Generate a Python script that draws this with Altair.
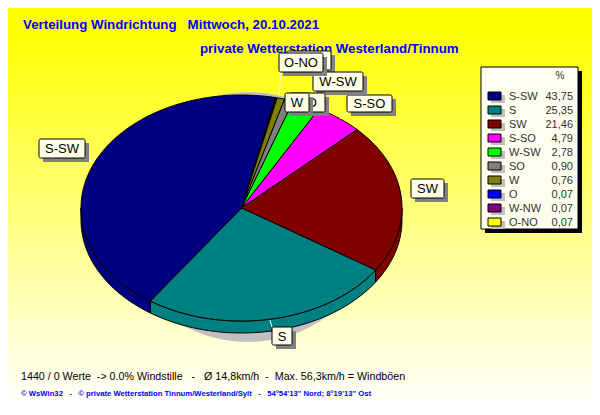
import math
import altair as alt
import pandas as pd

# values, legend order
names = ["S-SW", "S", "SW", "S-SO", "W-SW", "SO", "W", "O", "W-NW", "O-NO"]
percent = [43.75, 25.35, 21.46, 4.79, 2.78, 0.90, 0.76, 0.07, 0.07, 0.07]
percent_text = ["43,75", "25,35", "21,46", "4,79", "2,78", "0,90", "0,76", "0,07", "0,07", "0,07"]
colors = ["#000080", "#008080", "#800000", "#FF00FF", "#00FF00", "#808080", "#808000", "#0000FF", "#800080", "#FFFF00"]
pie_order = ["W-NW", "O", "O-NO", "W", "SO", "W-SW", "S-SO", "SW", "S", "S-SW"]

title_1 = "Verteilung Windrichtung\u00a0\u00a0\u00a0Mittwoch, 20.10.2021"
title_2 = "private Wetterstation Westerland/Tinnum"
info = "1440 / 0 Werte\u00a0\u00a0-> 0.0% Windstille\u00a0\u00a0\u00a0-\u00a0\u00a0\u00a0Ø 14,8km/h\u00a0\u00a0-\u00a0\u00a0Max. 56,3km/h = Windböen"
footer = "© WsWin32\u00a0\u00a0\u00a0-\u00a0\u00a0\u00a0© private Wetterstation Tinnum/Westerland/Sylt\u00a0\u00a0\u00a0-\u00a0\u00a0\u00a054°54'13'' Nord; 8°19'13'' Ost"

# layout (page pixels in the 600x415 window; the page margin is taken off below)
M = 8
W, H = 584, 399
CX, CY, RX, RY, DEPTH = 241.5 - M, 208 - M, 160.5, 113, 12
START = 0.0336
FONT = "Liberation Sans"

label_boxes = [  # drawn in this order; an empty text is a label hidden behind another one
    ("S-SW", "S-SW", 39, 85, 139, 158), ("S", "S", 272, 292, 327, 345), ("SW", "SW", 411, 444, 179, 198),
    ("S-SO", "S-SO", 347, 392, 95, 112), ("W-NW", "", 287, 331, 51, 70), ("W-SW", "W-SW", 313, 363, 72, 91),
    ("O-NO", "O-NO", 279, 323, 53, 72), ("SO", "SO", 290, 325, 93, 112), ("W", "W", 285, 309, 93, 112),
]
leaders = [(347, 112, 340, 119), (272, 327, 270, 320), (85, 160, 92, 161), (402, 199, 411, 199)]
dashed_leaders = [(281, 72, 279, 97)]


def pt(t, dy=0.0):
    a = 2 * math.pi * t
    return [CX + RX * math.sin(a), CY - RY * math.cos(a) + dy]


def arc(t0, t1, dy=0.0):
    n = max(2, int(abs(t1 - t0) * 300))
    return [pt(t0 + (t1 - t0) * i / n, dy) for i in range(n + 1)]


def feature(name, ring):
    ring = ring + [ring[0]]
    return {"type": "Feature", "properties": {"name": name},
            "geometry": {"type": "Polygon", "coordinates": [ring]}}


share = dict(zip(names, percent))
total = sum(percent)
tops, walls = [], []
t = START
for name in pie_order:
    t1 = t + share[name] / total
    tops.append(feature(name, [[CX, CY]] + arc(t, t1)))
    a, b = max(t, 0.25), min(t1, 0.75)
    if a < b:
        walls.append(feature(name, arc(a, b) + arc(b, a, DEPTH)))
    t = t1

sx, sy, srx, sry = 248 - M, 217 - M, 130, 125
shadow = [{"type": "Feature", "properties": {"name": "shadow"}, "geometry": {"type": "Polygon", "coordinates": [[
    [sx + srx * math.sin(2 * math.pi * i / 120), sy - sry * math.cos(2 * math.pi * i / 120)] for i in range(121)]]}}]

fill_enc = alt.Fill("properties.name:N", scale=alt.Scale(domain=names, range=colors), legend=None)


def shape(features, **kw):
    return alt.Chart(alt.Data(values=features)).mark_geoshape(**kw).project(
        type="identity", scale=1, translate=[0, 0])


def rects(df, **kw):
    return alt.Chart(df).mark_rect(**kw).encode(
        x=alt.X("x:Q", scale=None, axis=None), x2="x2:Q",
        y=alt.Y("y:Q", scale=None, axis=None), y2="y2:Q")


def text(df, **kw):
    kw.setdefault("font", FONT)
    return alt.Chart(df).mark_text(**kw).encode(
        x=alt.X("x:Q", scale=None, axis=None), y=alt.Y("y:Q", scale=None, axis=None), text="t:N")


def one(x, y, t):
    return pd.DataFrame({"x": [x - M], "y": [y - M], "t": [t]})


def box(x0, x1, y0, y1):
    return pd.DataFrame({"x": [x0 - M], "x2": [x1 - M], "y": [y0 - M], "y2": [y1 - M]})


def rule(seg, **kw):
    x0, y0, x1, y1 = seg
    return alt.Chart(pd.DataFrame({"x": [x0 - M], "x2": [x1 - M], "y": [y0 - M], "y2": [y1 - M]})).mark_rule(
        color="white", strokeWidth=1, **kw).encode(
        x=alt.X("x:Q", scale=None, axis=None), x2="x2:Q", y=alt.Y("y:Q", scale=None, axis=None), y2="y2:Q")


layers = []
layers.append(alt.Chart(pd.DataFrame({"a": [0]})).mark_rect(
    color=alt.LinearGradient(gradient="linear", x1=0, x2=0, y1=0, y2=1, stops=[
        alt.GradientStop(offset=0, color="#FFFF00"), alt.GradientStop(offset=0.06, color="#FFFF00"),
        alt.GradientStop(offset=1, color="#FFFFFF")])
).encode(x=alt.value(-1), x2=alt.value(W + 1), y=alt.value(-1), y2=alt.value(H + 1)))

layers.append(text(one(23, 25, title_1), align="left", baseline="middle", fontSize=13.3, fontWeight="bold", color="#0000FF"))
layers.append(text(one(200, 49, title_2), align="left", baseline="middle", fontSize=13.3, fontWeight="bold", color="#0000FF"))

layers.append(shape(shadow, fill="#C0C0C0"))
layers.append(shape(walls, stroke="black", strokeWidth=1).encode(fill=fill_enc))
layers.append(shape(tops, stroke="black", strokeWidth=1).encode(fill=fill_enc))

for seg in leaders:
    layers.append(rule(seg))
for seg in dashed_leaders:
    layers.append(rule(seg, strokeDash=[3, 2]))

for name, shown, x0, x1, y0, y1 in label_boxes:
    layers.append(rects(box(x0 + 4, x1 + 4, y0 + 4, y1 + 4), color="#808080"))
    layers.append(rects(box(x0, x1, y0, y1), fill="#FFFFE8", stroke="black", strokeWidth=1, cornerRadius=1.5))
    if shown:
        layers.append(text(one((x0 + x1) / 2, (y0 + y1) / 2 + 0.5, shown), align="center", baseline="middle", fontSize=13, color="black"))

# legend panel
layers.append(rects(box(485, 582, 71, 233), color="#000000"))
layers.append(rects(box(481, 578, 67, 229), fill="#FFFFF0", stroke="black", strokeWidth=1))
layers.append(text(one(560, 76, "%"), align="center", baseline="middle", fontSize=10, color="#303030"))
legend_rows = pd.DataFrame({"name": names, "text": percent_text, "rank": range(len(names))})
legend_rows["y0"] = legend_rows["rank"] * 14 + 92 - M
legend_rows["y1"] = legend_rows["y0"] + 8
legend_rows["ys0"] = legend_rows["y0"] + 3
legend_rows["ys1"] = legend_rows["y1"] + 3
legend_rows["ty"] = legend_rows["y0"] + 4.5
legend_rows["a"] = 488 - M
legend_rows["b"] = 501 - M
legend_rows["as"] = 491 - M
legend_rows["bs"] = 505 - M
legend_rows["tx"] = 509 - M
legend_rows["vx"] = 573 - M
layers.append(alt.Chart(legend_rows).mark_rect(color="#C0C0C0").encode(
    x=alt.X("as:Q", scale=None, axis=None), x2="bs:Q", y=alt.Y("ys0:Q", scale=None, axis=None), y2="ys1:Q"))
layers.append(alt.Chart(legend_rows).mark_rect(stroke="black", strokeWidth=1).encode(
    x=alt.X("a:Q", scale=None, axis=None), x2="b:Q", y=alt.Y("y0:Q", scale=None, axis=None), y2="y1:Q",
    fill=alt.Fill("name:N", scale=alt.Scale(domain=names, range=colors), legend=None)))
layers.append(alt.Chart(legend_rows).mark_text(font=FONT, fontSize=11, align="left", baseline="middle", color="#303030").encode(
    x=alt.X("tx:Q", scale=None, axis=None), y=alt.Y("ty:Q", scale=None, axis=None), text="name:N"))
layers.append(alt.Chart(legend_rows).mark_text(font=FONT, fontSize=11, align="right", baseline="middle", color="#303030").encode(
    x=alt.X("vx:Q", scale=None, axis=None), y=alt.Y("ty:Q", scale=None, axis=None), text="text:N"))

layers.append(text(one(21, 377, info), align="left", baseline="middle", fontSize=10.7, color="black"))
layers.append(text(one(21, 394, footer), align="left", baseline="middle", fontSize=7.7, fontWeight="bold", color="#0000FF"))

chart = alt.layer(*layers).resolve_scale(fill="shared").properties(
    width=W, height=H, padding=0, autosize=alt.AutoSizeParams(type="none")
).configure_view(stroke=None)

chart.save("out.html", embed_options={"renderer": "svg", "actions": False})
